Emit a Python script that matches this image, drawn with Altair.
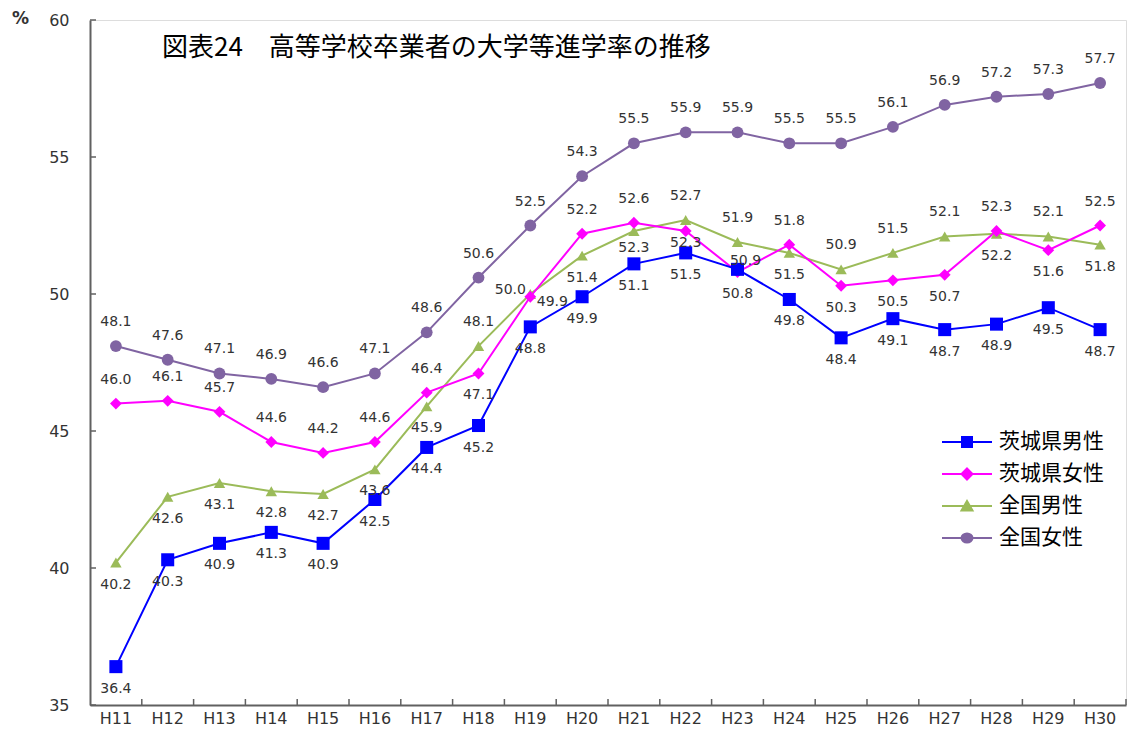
import altair as alt
import pandas as pd

# ---------------- data ----------------
years = ["H11", "H12", "H13", "H14", "H15", "H16", "H17", "H18", "H19", "H20",
         "H21", "H22", "H23", "H24", "H25", "H26", "H27", "H28", "H29", "H30"]
series_names = ["茨城県男性", "茨城県女性", "全国男性", "全国女性"]
ibaraki_male = [36.4, 40.3, 40.9, 41.3, 40.9, 42.5, 44.4, 45.2, 48.8, 49.9,
                51.1, 51.5, 50.9, 49.8, 48.4, 49.1, 48.7, 48.9, 49.5, 48.7]
ibaraki_female = [46.0, 46.1, 45.7, 44.6, 44.2, 44.6, 46.4, 47.1, 49.9, 52.2,
                  52.6, 52.3, 50.8, 51.8, 50.3, 50.5, 50.7, 52.3, 51.6, 52.5]
national_male = [40.2, 42.6, 43.1, 42.8, 42.7, 43.6, 45.9, 48.1, 50.0, 51.4,
                 52.3, 52.7, 51.9, 51.5, 50.9, 51.5, 52.1, 52.2, 52.1, 51.8]
national_female = [48.1, 47.6, 47.1, 46.9, 46.6, 47.1, 48.6, 50.6, 52.5, 54.3,
                   55.5, 55.9, 55.9, 55.5, 55.5, 56.1, 56.9, 57.2, 57.3, 57.7]
y_ticks = [35, 40, 45, 50, 55, 60]
title_text = "図表24　高等学校卒業者の大学等進学率の推移"

# ---------------- style ----------------
colors = ["#0000FF", "#FF00FF", "#9BBB59", "#8064A2"]
shapes = ["square", "diamond", "triangle-up", "circle"]
marker_sizes = [170, 140, 130, 140]
legend_paths = [
    "M-2.5,0H2.5M-0.5,-0.5H0.5V0.5H-0.5Z",
    "M-2.5,0H2.5M0,-0.55L0.55,0L0,0.55L-0.55,0Z",
    "M-2.5,0H2.5M0,-0.5L0.55,0.45L-0.55,0.45Z",
    "M-2.5,0H2.5M-0.55,0A0.55,0.45,0,1,0,0.55,0A0.55,0.45,0,1,0,-0.55,0Z",
]
# label placement per point: a=above, b=below, l=left, r=right, t=on top-right,
# s/m = slightly below
label_pos = [
    "bbbbbbbbbbbbtbbbbbbb",
    "aaaaaaabraasbabbbaba",
    "bbbbbbbalbmaabaaabab",
    "aaaaaaaaaaaaaaaaaaaa",
]
pos_offsets = {"a": (0, -24), "b": (0, 22), "l": (-20, -4), "r": (22, 5), "t": (8, -8),
               "s": (0, 12), "m": (0, 17)}

W, H = 1036, 685
FONT = "DejaVu Sans"
JFONT = "Noto Sans CJK JP"

all_values = [ibaraki_male, ibaraki_female, national_male, national_female]
rows = []
for si, name in enumerate(series_names):
    for yi, yr in enumerate(years):
        rows.append({"year": yr, "series": name, "value": all_values[si][yi],
                     "pos": label_pos[si][yi], "label": f"{all_values[si][yi]:.1f}"})
df = pd.DataFrame(rows)

x_axis = alt.Axis(title=None, labelAngle=0, ticks=False, labelFont=FONT,
                  labelFontSize=16, labelColor="#333333", labelPadding=5,
                  domainColor="#606060", domainWidth=2, grid=False)
x_scale = alt.Scale(type="band", domain=years, paddingInner=0, paddingOuter=0)


def X(field="year", **kw):
    return alt.X(f"{field}:N", scale=x_scale, axis=x_axis, **kw)


def Y(field="value"):
    return alt.Y(f"{field}:Q",
                 scale=alt.Scale(domain=[35, 60], nice=False, zero=False),
                 axis=alt.Axis(title="%", titleAngle=0, titleX=-70, titleY=-2,
                               titleAlign="center", titleBaseline="middle",
                               titleFont=FONT, titleFontSize=17, titleFontWeight="bold",
                               titleColor="#333333",
                               values=y_ticks, ticks=False, tickSize=0, labelFont=FONT,
                               labelFontSize=16, labelColor="#333333", labelPadding=21,
                               domainColor="#606060", domainWidth=2, grid=False))


base = alt.Chart(df)
draw_order = [3, 2, 1, 0]
layers = []
for si in draw_order:
    layers.append(base.transform_filter(alt.datum.series == series_names[si])
                  .mark_line(color=colors[si], strokeWidth=2)
                  .encode(x=X(), y=Y()))
for si in draw_order:
    layers.append(base.transform_filter(alt.datum.series == series_names[si])
                  .mark_point(shape=shapes[si], filled=True, opacity=1, color=colors[si],
                              size=marker_sizes[si])
                  .encode(x=X(), y=Y()))
for code, (dx, dy) in pos_offsets.items():
    layers.append(base.transform_filter(alt.datum.pos == code)
                  .mark_text(dx=dx, dy=dy, font=FONT, fontSize=14, color="#333333",
                             align="center", baseline="middle")
                  .encode(x=X(), y=Y(), text="label:N"))

# ticks pointing inward
tick_x = alt.Chart(pd.DataFrame({"year": years})).mark_rule(color="#606060", strokeWidth=1.5).encode(
    x=X(bandPosition=1), y=alt.value(H - 6), y2=alt.value(H))
tick_y = alt.Chart(pd.DataFrame({"v": y_ticks})).mark_rule(color="#606060", strokeWidth=1.5).encode(
    y=Y("v"), x=alt.value(0), x2=alt.value(6))
layers += [tick_x, tick_y]

legend = alt.Legend(title=None, orient="none", legendX=866, legendY=411, symbolSize=400,
                    symbolStrokeWidth=2, labelFontSize=21, labelFont=JFONT, labelColor="black",
                    labelOffset=21, rowPadding=11, padding=0)
legend_layer = base.transform_filter(alt.datum.value < 0).mark_point(
    filled=True, opacity=1, strokeWidth=2).encode(
    x=X(), y=Y(),
    color=alt.Color("series:N", scale=alt.Scale(domain=series_names, range=colors), legend=legend),
    stroke=alt.Stroke("series:N", scale=alt.Scale(domain=series_names, range=colors), legend=legend),
    shape=alt.Shape("series:N", scale=alt.Scale(domain=series_names, range=legend_paths), legend=legend),
)
layers.append(legend_layer)

chart = alt.layer(*layers).properties(
    width=W, height=H,
    autosize=alt.AutoSizeParams(type="none"),
    padding={"left": 82, "top": 12, "right": 4, "bottom": 24},
    title=alt.TitleParams(text=title_text, anchor="start", frame="group", font=JFONT,
                          fontSize=26, fontWeight="normal", color="black",
                          dx=72, dy=52, offset=0),
).configure_view(stroke=None).configure(background="white")

chart.save("out.html", embed_options={"renderer": "svg", "actions": False})
